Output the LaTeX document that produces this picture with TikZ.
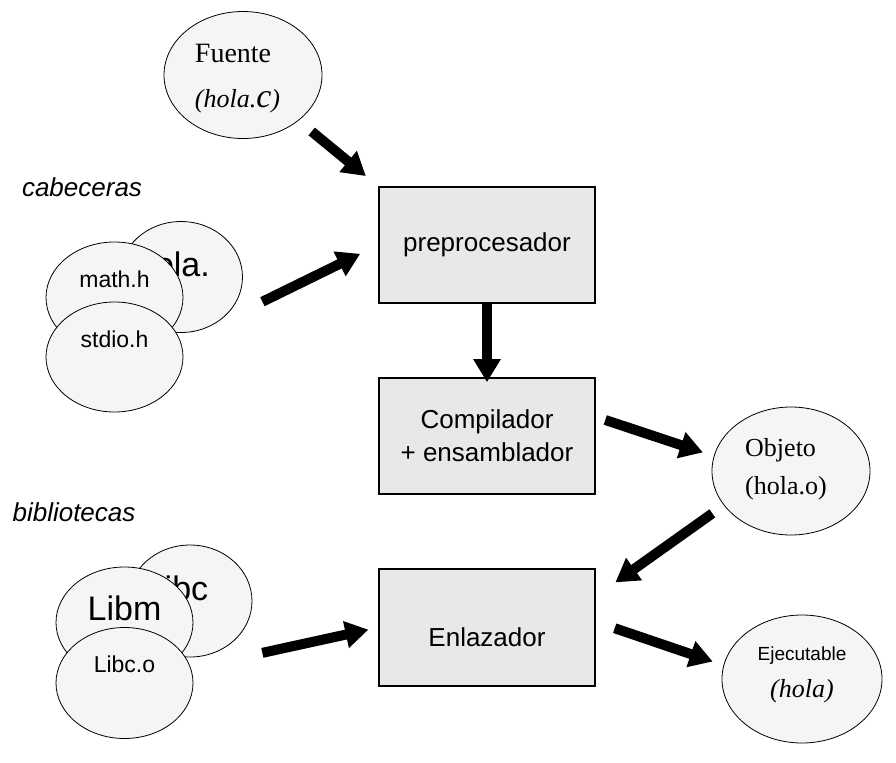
\documentclass[tikz,border=0pt]{standalone}
\usepackage{fontspec}
\setmainfont{Liberation Sans}
\newfontfamily\timesfont{Liberation Serif}
\usetikzlibrary{shapes.geometric,arrows.meta}

\begin{document}
\begin{tikzpicture}[x=0.5pt, y=-0.5pt,
		blob/.style={ellipse, draw, fill=black!4, inner sep=0pt},
		stage/.style={rectangle, draw, line width=0.8pt, fill=black!9, minimum width=108pt, minimum height=58pt, align=center, font=\fontsize{13}{15.6}\selectfont},
		flow/.style={line width=5pt, -{Triangle[length=11.5pt,width=13pt]}},
		tagtext/.style={font=\itshape\fontsize{13}{15.6}\selectfont},
		rmtext/.style={font=\timesfont\fontsize{13}{15.6}\selectfont},
		bigtext/.style={font=\fontsize{17}{20}\selectfont},
		hdrtext/.style={font=\fontsize{11.5}{13.8}\selectfont}]
	\useasboundingbox (0,0) rectangle (896,762);
	
	% Source file
	\node[blob, minimum width=79pt, minimum height=63.5pt,
		label={[rmtext, align=left, xshift=-2.75pt, yshift=-1.75pt]center:{\fontsize{14}{16.8}\selectfont Fuente\\[7pt]{\itshape\fontsize{13}{15.6}\selectfont(hola.{\fontsize{17}{17}\selectfont c})}}}] (fuente) at (243,75) {};
	
	% Headers
	\node[tagtext] (cabeceras) at (82,187) {cabeceras};
	\node[blob, minimum width=61.5pt, minimum height=55.5pt, label={[bigtext, xshift=-4pt, yshift=6.5pt]center:hola.}] (holah) at (181,277) {};
	\node[blob, minimum width=68.5pt, minimum height=55.5pt, label={[hdrtext, yshift=9pt]center:math.h}] (mathh) at (114.5,297.5) {};
	\node[blob, minimum width=68.5pt, minimum height=55pt, label={[hdrtext, yshift=9pt]center:stdio.h}] (stdioh) at (114.5,357) {};
	
	% Libraries
	\node[tagtext] (bibliotecas) at (74,512) {bibliotecas};
	\node[blob, minimum width=62pt, minimum height=56pt, label={[bigtext, xshift=-6.5pt, yshift=6.5pt]center:Libc}] (libc) at (190,601) {};
	\node[blob, minimum width=68.5pt, minimum height=55.5pt, label={[bigtext, yshift=7pt]center:Libm}] (libm) at (124.5,622.5) {};
	\node[blob, minimum width=68.5pt, minimum height=55.5pt, label={[hdrtext, yshift=9.5pt]center:Libc.o}] (libco) at (124.5,683) {};
	
	% Stages
	\node[stage] (prep) at (487,245) {preprocesador};
	\node[stage] (comp) at (487,436) {Compilador\\[1pt]+ ensamblador};
	\node[stage, minimum height=58.5pt, text height=18.5pt, text depth=0pt] (enl) at (487,627.5) {Enlazador};
	
	% Outputs
	\node[blob, minimum width=79pt, minimum height=64pt,
		label={[rmtext, align=left, xshift=-2.5pt, yshift=1pt]center:{Objeto\\[3.5pt](hola.o)}}] (objeto) at (791,471) {};
	\node[blob, minimum width=80pt, minimum height=64pt,
		label={[align=center, yshift=2pt, font=\fontsize{9.5}{11.4}\selectfont]center:{Ejecutable\\[7pt]{\timesfont\itshape\fontsize{13}{15}\selectfont(hola)}}}] (ejec) at (802,679) {};
	
	% connections
	\draw[flow, shorten <=8.5pt, shorten >=8pt] (fuente) -- (prep.north west);
	\draw[flow, shorten <=45.5pt, shorten >=10pt] (stdioh.13) -- (prep.west);
	\draw[flow, shorten >=-2.5pt] (prep.south) -- (comp.north);
	\draw[flow, shorten <=5pt, shorten >=5.7pt] (comp.10) -- (objeto.169);
	\draw[flow, shorten <=7pt, shorten >=12pt] (objeto.207) -- (enl.16);
	\draw[flow, shorten <=36.5pt, shorten >=5pt] (libco) -- (enl.west);
	\draw[flow, shorten <=10pt, shorten >=5.7pt] (enl.3) -- (ejec.170);
\end{tikzpicture}
\end{document}
